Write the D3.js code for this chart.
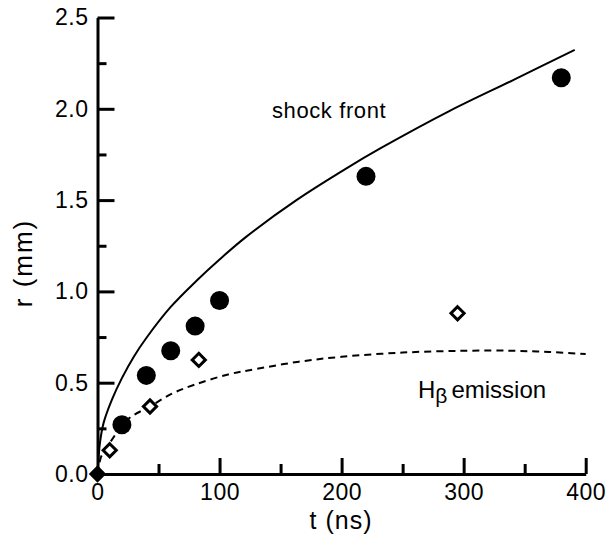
<!DOCTYPE html>
<html>
<head>
<meta charset="utf-8">
<script src="https://cdn.jsdelivr.net/npm/d3@7"></script>
<style>
  html, body { margin: 0; padding: 0; background: #fff; }
  svg { display: block; }
  text { font-family: "Liberation Sans", Arial, Helvetica, sans-serif; fill: #000; }
</style>
</head>
<body>
<svg id="chart" width="606" height="537"></svg>
<script>
// Measured shock-front radius (filled circles)
const shockT = [20, 40, 60, 80, 100, 220, 380];
const shockR = [0.27, 0.54, 0.675, 0.81, 0.95, 1.63, 2.17];

// Measured H-beta emission radius (open diamonds)
const hbetaT = [0, 10, 43, 83, 295];
const hbetaR = [0, 0.13, 0.37, 0.625, 0.88];

// Model curve for the shock front (solid line)
const modelShockT = [0, 2, 5, 12, 20, 30, 40, 60, 82, 100, 122, 163, 204, 232, 289, 343, 391];
const modelShockR = [0, 0.17, 0.28, 0.41, 0.525, 0.645, 0.745, 0.915, 1.064, 1.175, 1.30, 1.50, 1.674, 1.784, 1.99, 2.165, 2.323];

// Model curve for the emission front (dashed line)
const modelEmisT = [0, 3, 10, 25, 43, 61, 80, 107, 130, 165, 200, 250, 300, 340, 370, 400];
const modelEmisR = [0, 0.095, 0.17, 0.30, 0.37, 0.44, 0.49, 0.545, 0.575, 0.615, 0.642, 0.665, 0.675, 0.675, 0.668, 0.657];

// Axis ticks
const xMajor = [0, 100, 200, 300, 400];
const xMinor = [50, 150, 250, 350];
const yMajor = [0, 0.5, 1.0, 1.5, 2.0, 2.5];
const yMinor = [0.25, 0.75, 1.25, 1.75, 2.25];

const svg = d3.select("#chart");
const x = d3.scaleLinear().domain([0, 400]).range([97.5, 585.7]);
const y = d3.scaleLinear().domain([0, 2.5]).range([474, 17.5]);

const zip = (a, b) => a.map((v, i) => [v, b[i]]);

// Curves
const line = d3.line().x(d => x(d[0])).y(d => y(d[1])).curve(d3.curveCatmullRom.alpha(0.5));

svg.append("path")
  .attr("d", line(zip(modelShockT, modelShockR)))
  .attr("fill", "none").attr("stroke", "#000").attr("stroke-width", 2);

svg.append("path")
  .attr("d", line(zip(modelEmisT, modelEmisR)))
  .attr("fill", "none").attr("stroke", "#000").attr("stroke-width", 2)
  .attr("stroke-dasharray", "7,5");

// Axes
const tickFont = 23;
function styleAxis(g) {
  g.select(".domain").attr("stroke-width", 3);
  g.selectAll(".tick line").attr("stroke-width", 3);
  g.selectAll(".tick text").attr("font-size", tickFont)
    .attr("font-family", "'Liberation Sans', Arial, Helvetica, sans-serif")
    .attr("letter-spacing", "0.5px");
}

const gx = svg.append("g").attr("transform", `translate(0,${y(0)})`);
gx.call(d3.axisBottom(x).tickValues(xMinor).tickFormat("").tickSize(-10).tickSizeOuter(0));
gx.select(".domain").remove();
gx.selectAll(".tick line").attr("stroke-width", 3);

const gx2 = svg.append("g").attr("transform", `translate(0,${y(0)})`);
gx2.call(d3.axisBottom(x).tickValues(xMajor).tickFormat(d3.format("d"))
  .tickSize(-16).tickSizeOuter(0).tickPadding(10));
styleAxis(gx2);
gx2.selectAll(".tick").filter(d => d === 0).select("line").remove();

const gy = svg.append("g").attr("transform", `translate(${x(0)},0)`);
gy.call(d3.axisLeft(y).tickValues(yMinor).tickFormat("").tickSize(-9).tickSizeOuter(0));
gy.select(".domain").remove();
gy.selectAll(".tick line").attr("stroke-width", 3);

const gy2 = svg.append("g").attr("transform", `translate(${x(0)},0)`);
gy2.call(d3.axisLeft(y).tickValues(yMajor).tickFormat(d3.format(".1f"))
  .tickSize(-17).tickSizeOuter(0).tickPadding(9));
styleAxis(gy2);
gy2.selectAll(".tick").filter(d => d === 0).select("line").remove();

// Close the axis corner at the origin
svg.append("line").attr("x1", x(0) - 1.5).attr("x2", x(0) + 1.5)
  .attr("y1", y(0)).attr("y2", y(0)).attr("stroke", "#000").attr("stroke-width", 3);

// Shock-front measurements
svg.append("g").selectAll("circle")
  .data(zip(shockT, shockR))
  .join("circle")
  .attr("cx", d => x(d[0])).attr("cy", d => y(d[1]))
  .attr("r", 9.5).attr("fill", "#000");

// Emission measurements
const diamond = d3.symbol().type(d3.symbolDiamond2).size(110);
svg.append("g").selectAll("path")
  .data(zip(hbetaT, hbetaR))
  .join("path")
  .attr("d", diamond)
  .attr("transform", d => `translate(${x(d[0])},${y(d[1])})`)
  .attr("fill", (d, i) => i === 0 ? "#000" : "#fff")
  .attr("stroke", "#000").attr("stroke-width", 3);

// Axis titles
svg.append("text")
  .attr("x", 341).attr("y", 529)
  .attr("text-anchor", "middle")
  .attr("font-size", 25).attr("letter-spacing", "1px")
  .text("t (ns)");

svg.append("text")
  .attr("transform", "translate(32,263) rotate(-90)")
  .attr("text-anchor", "middle")
  .attr("font-size", 26).attr("letter-spacing", "2px")
  .text("r (mm)");

// Curve labels
svg.append("text")
  .attr("x", 272).attr("y", 118)
  .attr("font-size", 22).attr("letter-spacing", "0.6px")
  .text("shock front");

const hb = svg.append("text").attr("x", 418).attr("y", 398).attr("font-size", 24);
hb.append("tspan").text("H");
hb.append("tspan").attr("font-size", 21).attr("dy", 5).attr("dx", 0).text("β");
hb.append("tspan").attr("dy", -5).attr("dx", 4).text("emission");
</script>
</body>
</html>
